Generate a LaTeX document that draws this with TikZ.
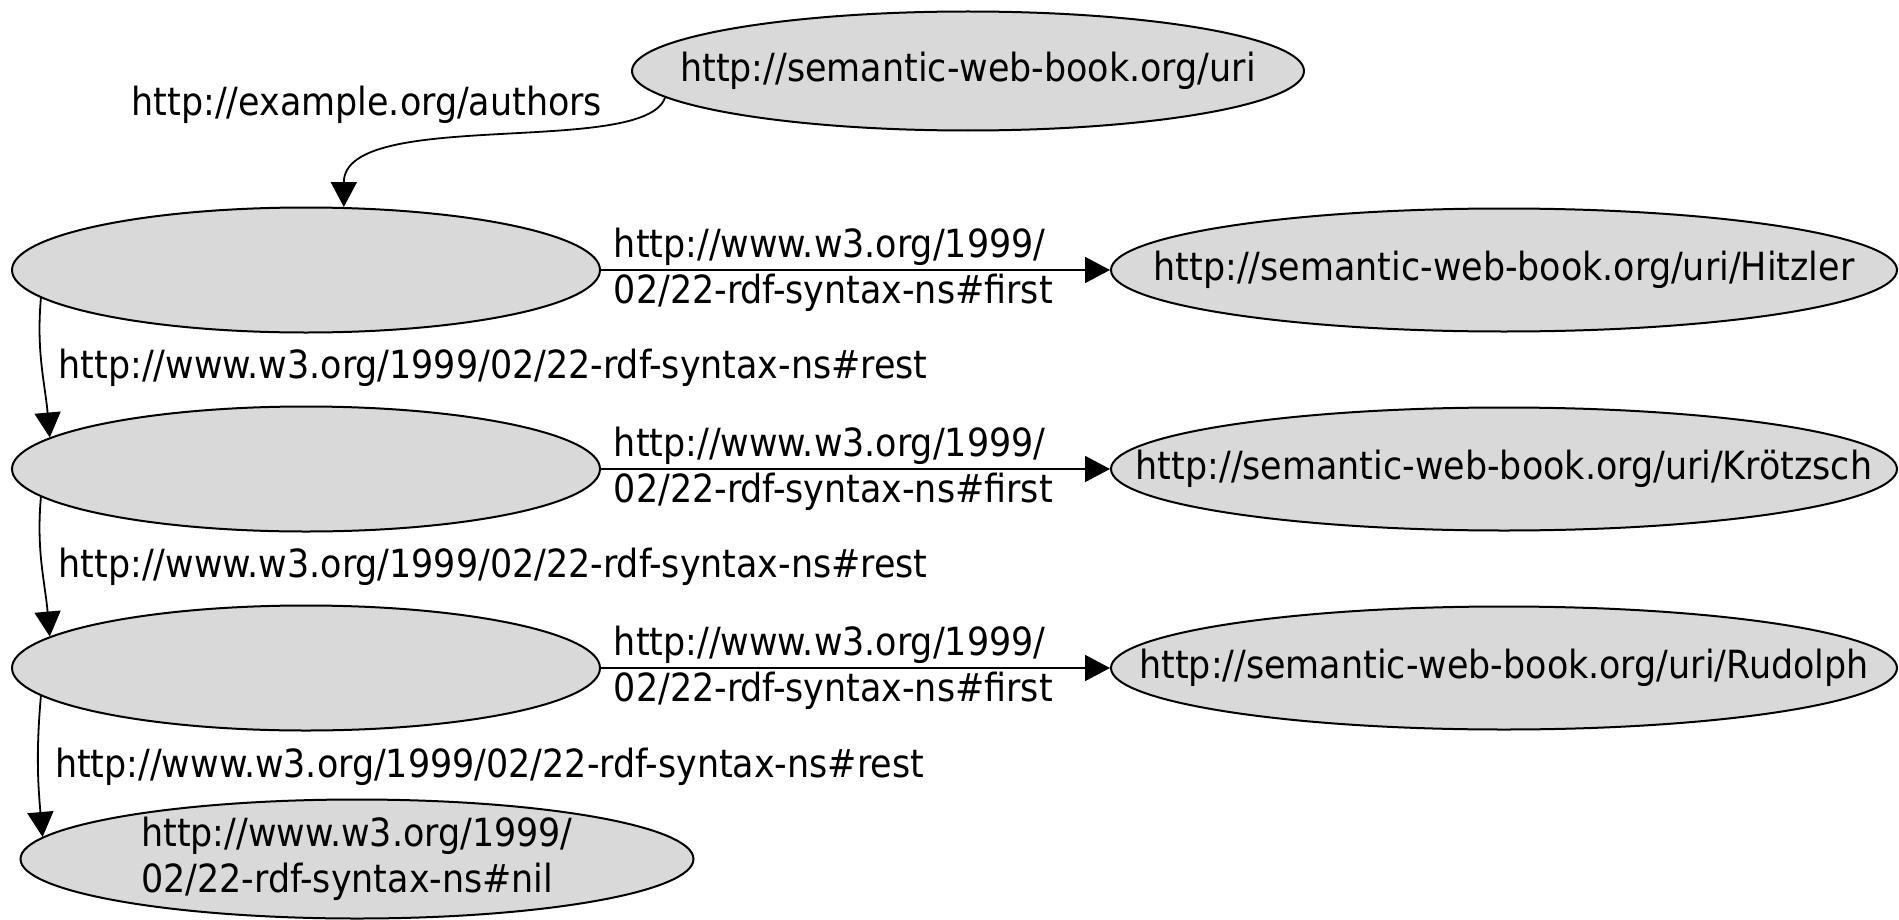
\documentclass[tikz,border=0pt]{standalone}
\usepackage{fontspec}
\setmainfont{DejaVu Sans Condensed}
\usetikzlibrary{shapes.geometric}
\usetikzlibrary{arrows.meta}
\definecolor{nodegray}{RGB}{217,217,217}
\tikzset{
  res/.style={ellipse,draw,fill=nodegray,line width=1pt,inner ysep=0pt,inner xsep=-70pt,align=left},
  rel/.style={-{Triangle[length=12.5pt,width=13pt]},line width=0.9pt},
  lbl/.style={inner sep=0pt,align=left}
}

\begin{document}
\begin{tikzpicture}[x=0.5pt,y=-0.5pt,font=\fontsize{19.4}{23}\selectfont]
\useasboundingbox (0,0) rectangle (1899,920);
\node[res,minimum width=336pt,minimum height=59.5pt] (uri) at (968,71) {http://semantic-web-book.org/uri};
\node[res,minimum width=294pt,minimum height=62.5pt] (b1) at (306,270) {};
\node[res,minimum width=294pt,minimum height=62.5pt] (b2) at (306,469) {};
\node[res,minimum width=294pt,minimum height=62.5pt] (b3) at (306,668) {};
\node[res,minimum width=393pt,minimum height=61.5pt] (hit) at (1504,270) {http://semantic-web-book.org/uri/Hitzler};
\node[res,minimum width=393pt,minimum height=61.5pt] (kro) at (1504,469) {http://semantic-web-book.org/uri/Krötzsch};
\node[res,minimum width=393pt,minimum height=61.5pt] (rud) at (1504,668) {http://semantic-web-book.org/uri/Rudolph};
\node[res,minimum width=336.5pt,minimum height=59.5pt] (nil) at (357,859) {http://www.w3.org/1999/\\02/22-rdf-syntax-ns\#nil};

\draw[rel] (uri.185) .. controls +(-20,60) and +(0,-100) .. node[lbl,at start,anchor=east,xshift=-31pt,yshift=-3.5pt] {http://example.org/authors} (b1.59);

\draw[rel] (b1.east) -- node[lbl,at start,anchor=west,xshift=6pt] {http://www.w3.org/1999/\\02/22-rdf-syntax-ns\#first} (hit);
\draw[rel] (b2.east) -- node[lbl,at start,anchor=west,xshift=6pt] {http://www.w3.org/1999/\\02/22-rdf-syntax-ns\#first} (kro);
\draw[rel] (b3.east) -- node[lbl,at start,anchor=west,xshift=6pt] {http://www.w3.org/1999/\\02/22-rdf-syntax-ns\#first} (rud);

\draw[rel] (b1.186) to[out=-95,in=95] node[lbl,midway,anchor=west,xshift=8pt] {http://www.w3.org/1999/02/22-rdf-syntax-ns\#rest} (b2.173);
\draw[rel] (b2.186) to[out=-95,in=95] node[lbl,midway,anchor=west,xshift=8pt] {http://www.w3.org/1999/02/22-rdf-syntax-ns\#rest} (b3.173);
\draw[rel] (b3.186) to[out=-95,in=95] node[lbl,midway,anchor=west,xshift=8pt] {http://www.w3.org/1999/02/22-rdf-syntax-ns\#rest} (nil.176);
\end{tikzpicture}
\end{document}
